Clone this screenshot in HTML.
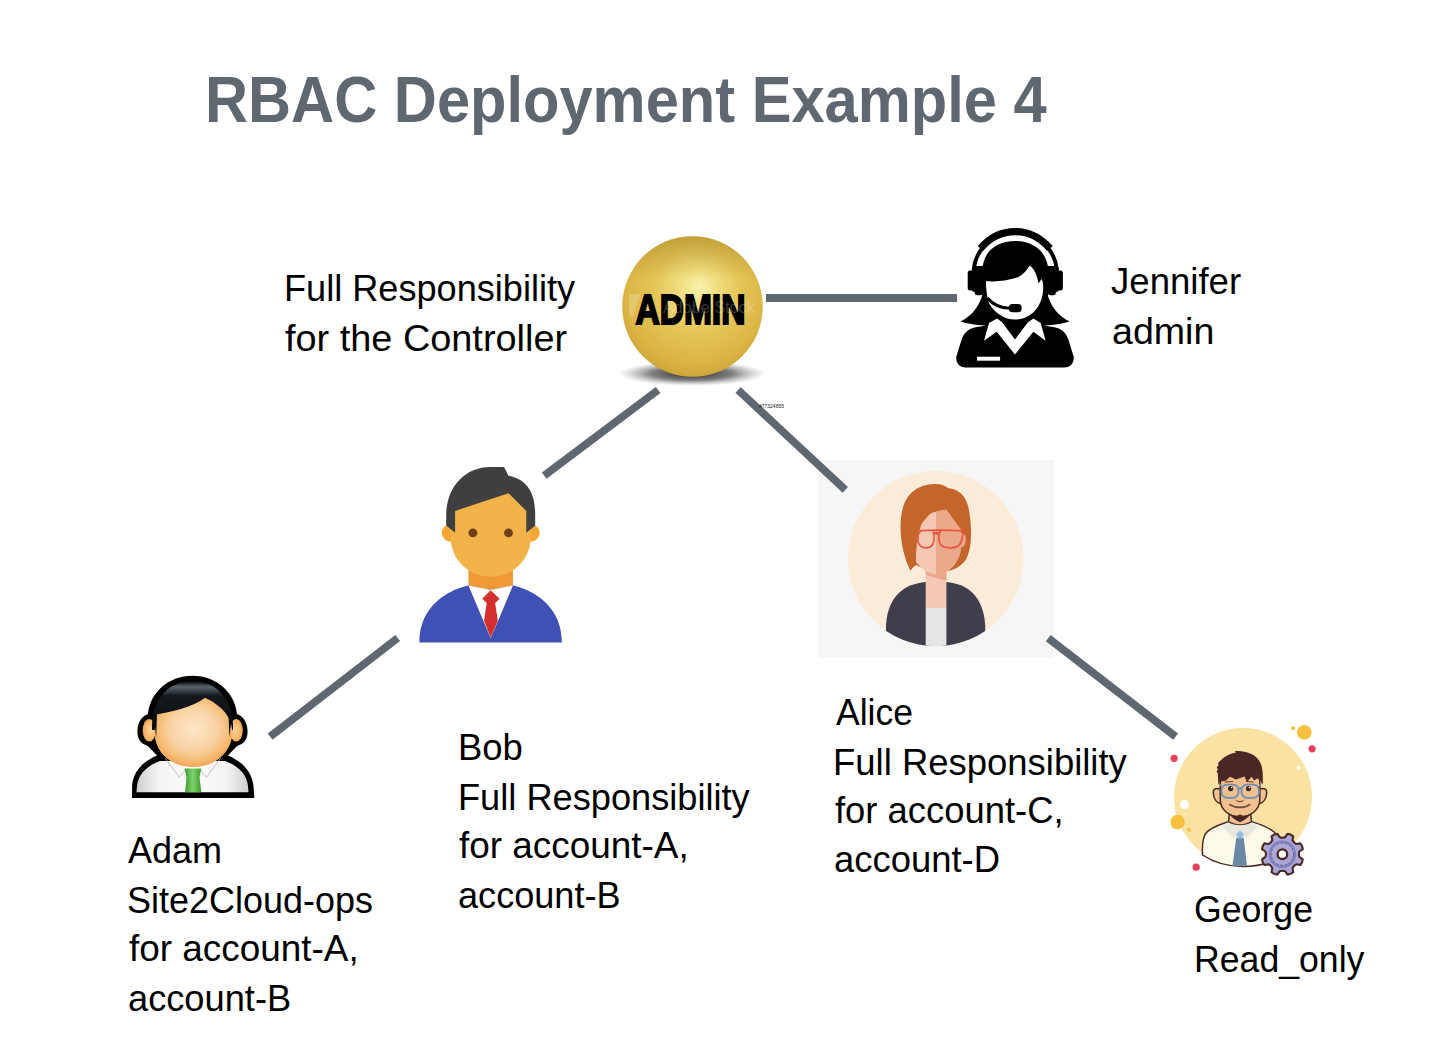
<!DOCTYPE html>
<html><head><meta charset="utf-8"><style>
html,body{margin:0;padding:0;background:#fff;}
body{width:1434px;height:1044px;position:relative;overflow:hidden;}
.t{position:absolute;font-family:"Liberation Sans",sans-serif;white-space:nowrap;line-height:1;transform-origin:0 0;}
svg{position:absolute;left:0;top:0;}
</style></head><body>
<svg width="1434" height="1044" viewBox="0 0 1434 1044">
<defs>
 <radialGradient id="gold" cx="0.52" cy="0.40" r="0.62" fx="0.55" fy="0.36">
  <stop offset="0" stop-color="#f8f2ae"/>
  <stop offset="0.22" stop-color="#f0de7e"/>
  <stop offset="0.5" stop-color="#e4c457"/>
  <stop offset="0.8" stop-color="#dcb646"/>
  <stop offset="0.93" stop-color="#d3aa3c"/>
  <stop offset="1" stop-color="#c49c32"/>
 </radialGradient>
 <radialGradient id="shad" cx="0.5" cy="0.5" r="0.5">
  <stop offset="0" stop-color="#222" stop-opacity="1"/>
  <stop offset="0.55" stop-color="#555" stop-opacity="0.75"/>
  <stop offset="1" stop-color="#999" stop-opacity="0"/>
 </radialGradient>
 <linearGradient id="goldTop" x1="0" x2="0" y1="0" y2="1">
  <stop offset="0" stop-color="#8a6a10" stop-opacity="0.35"/>
  <stop offset="0.3" stop-color="#8a6a10" stop-opacity="0"/>
  <stop offset="1" stop-color="#8a6a10" stop-opacity="0"/>
 </linearGradient>
 <clipPath id="aliceClip"><circle cx="935.7" cy="558.6" r="87.7"/></clipPath>
</defs>
<!-- Alice box -->
<rect x="818" y="460" width="236" height="198" fill="#f6f6f6"/>
<circle cx="935.7" cy="558.6" r="87.7" fill="#faecd8"/>
<g clip-path="url(#aliceClip)">
 <path fill="#403e4c" d="M886,646 L886,625 C888,595 905,584 925.7,582 L946.4,582 C967,584 983,595 985.2,625 L985.2,646 Z"/>
 <rect x="925.7" y="570" width="20.7" height="38" fill="#f5c8b3"/>
 <path fill="#eba88b" d="M925.7,569 L946.4,569 L946.4,581 L925.7,575 Z"/>
 <rect x="925.7" y="607.8" width="20.7" height="40" fill="#e5e6e7"/>
</g>
<path fill="#c4652b" d="M935,484.1 C941,484 945,486 948.3,488.2 C958,489 966,495 968.5,508 C971,520 971.5,532 970.8,540 C970,550 968,556 965.7,560 C961,566 955,570 948.3,570.7 L936,574 L916,565 C913,567 912,569 910.4,570.7 C905,560 901,545 900.6,530 C900,510 905,498 912.4,492 C918,487 927,484 935,484.1 Z"/>
<path fill="#f5c8b3" d="M916,560 C916,548 917.5,538 919.1,532.3 C921,524 923,521 925.7,519 C929,514 933,512 936,511.8 C940,510.5 944,509.8 946.2,509.8 L960.6,529.2 L960.6,549.7 C960,560 950,574.3 936,574.3 C927,574.3 920,567 916,562 Z"/>
<path fill="#eba88b" d="M936,511.8 C940,510.5 944,509.8 946.2,509.8 L960.6,529.2 L960.6,549.7 C960,560 950,574.3 936,574.3 Z"/>
<path fill="#eba88b" d="M960.4,533.5 C964,532.5 966,535 965.8,540 C965.6,545 963,548 960.4,547.5 Z"/>
<g fill="none" stroke="#e8563f" stroke-width="1.7" stroke-linecap="round">
 <path d="M920.5,530.6 C930,530 950,530 964.2,530.8"/>
 <path d="M921,530.8 C917.5,532.5 917.3,539 918.4,542.8 C919.8,546.8 922.8,547.9 926,547.9 C930,547.9 932.8,545.8 933.8,541.5 C934.4,538.5 934.2,534.5 933.4,531.8"/>
 <path d="M940.3,531.2 C938.4,534 938.4,540 939.8,543.2 C941.6,547 945.5,547.9 950.4,547.9 C955.8,547.9 959.8,546 961.4,541.4 C962.5,537.5 963,533.5 963.6,530.8"/>
 <path d="M934,533.2 L938.6,533.2" stroke-width="2.4"/>
</g>

<!-- connector lines -->
<rect x="766" y="294" width="191" height="8" fill="#5f6770"/>
<g stroke="#5f6770" stroke-width="7.8" fill="none">
 <line x1="658.1" y1="390" x2="544.2" y2="475.7"/>
 <line x1="738.1" y1="390" x2="845.3" y2="489.9"/>
 <line x1="397.7" y1="638" x2="270.1" y2="736.6"/>
 <line x1="1048.2" y1="638.2" x2="1175.6" y2="736.6"/>
</g>

<!-- ADMIN sphere -->
<ellipse cx="692" cy="373.5" rx="74" ry="12.5" fill="url(#shad)"/>
<circle cx="692.5" cy="306.5" r="70.3" fill="url(#gold)"/>
<circle cx="692.5" cy="306.5" r="70.3" fill="url(#goldTop)"/>

<!-- Bob -->
<g transform="translate(383.9,449.44) scale(4.45,4.39)">
 <path fill="#f09a36" d="M19,25 h10 v6 l-5,1 l-5,-1 z"/>
 <circle cx="15" cy="19" r="2" fill="#f5a733"/>
 <circle cx="33" cy="19" r="2" fill="#f5a733"/>
 <path fill="#f2b34b" d="M33,13c0-7.6-18-5-18,0c0,1.1,0,5.9,0,7c0,5,4,9,9,9s9-4,9-9C33,18.9,33,14.1,33,13z"/>
 <path fill="#3f3f3f" d="M24,4c-6.1,0-10,4.9-10,11c0,0.8,0,2.3,0,2.3l2,1.7v-5l12-4l4,4v5l2-1.7c0,0,0-1.5,0-2.3c0-4-1-8-6-9l-1-2H24z"/>
 <circle cx="20" cy="19" r="1" fill="#6e3f17"/>
 <circle cx="28" cy="19" r="1" fill="#6e3f17"/>
 <path fill="#3f51b5" d="M8,44 c0-11 11-13 11-13 l5,1 l5,-1 c0,0 11,2 11,13 z"/>
 <path fill="#fff" d="M19,31 l5,1 l5,-1 l-5,12 z"/>
 <path fill="#d32f2f" d="M24,32.1 l2,1.9 l-1,1 l0.6,4 l-1.6,3.9 l-1.5,-3.9 l0.6,-4 l-1,-1 z"/>
</g>

<!-- Jennifer -->
<g fill="#000">
 <path d="M966,367.5 C959,367.5 956.2,363 956.2,357 L961.8,339 C965,330 972,327 981,326.5 L1015,316 L1049,326.5 C1058,327 1065,330 1068.2,339 L1073.8,357 C1073.8,363 1071,367.5 1064,367.5 Z"/>
 <path d="M982.7,266.4 C985,250 998,241.1 1015.3,241.1 C1032,241.1 1045,250 1048,266.4 L1048,296 C1051,306 1058,316 1069.6,321.4 C1062,323.5 1056,324.5 1049,325.2 L981,325.2 C974,324.5 968,323.5 960.5,321.4 C972,316 979,306 982,296 Z"/>
</g>
<path fill="#fff" d="M985.8,280.9 C992,281.8 1005,282 1018.5,276.9 C1024,274 1027,270 1029.5,265.8 C1034,268 1037,275 1038.5,283.2 L1041.7,279 C1043,282 1043.4,285 1043.2,288.5 C1043,305 1032,319.6 1015.3,319.6 C1003,319.6 993,311 989,303 C987,297 986,288 985.8,280.9 Z"/>
<g fill="none" stroke="#000" stroke-linecap="butt">
 <path stroke-width="7.4" d="M980.5,248.5 C990,237 1002,231.6 1015.3,231.6 C1028,231.6 1040,237 1050,248.5"/>
 <path stroke-width="4" d="M982.5,248 C977.5,254 974.5,261 973.7,270"/>
 <path stroke-width="4" d="M1048,248 C1053,254 1056,261 1056.9,270"/>
 <path stroke-width="3" d="M987.5,298 C993,305 1001,308 1010,308.2"/>
</g>
<g fill="#000">
 <rect x="967.7" y="270.6" width="18.1" height="20" rx="2.5"/>
 <rect x="972" y="266" width="13.8" height="26" rx="2.5"/>
 <rect x="974.8" y="287" width="7.9" height="8.3" rx="2.5"/>
 <rect x="1044.8" y="270.6" width="18.1" height="20" rx="2.5"/>
 <rect x="1044.8" y="266" width="13.8" height="26" rx="2.5"/>
 <rect x="1047.9" y="287" width="7.9" height="8.3" rx="2.5"/>
 <rect x="1008.9" y="304.1" width="12.7" height="8.1" rx="3.5"/>
</g>
<path fill="#fff" d="M989,323.1 L997.1,318.6 L1002.1,322.2 L1015,339.4 L1028,322.2 L1033.4,318.6 L1040.7,323.1 L1045.6,340.8 L1033.4,331.7 L1015,354.4 L996.7,331.7 L984,340.8 Z"/>
<rect x="977" y="356.7" width="23.1" height="4" fill="#fff"/>


<!-- George -->
<circle cx="1243" cy="797" r="69" fill="#fae3a2"/>
<g fill="#f6c13f">
 <circle cx="1304.3" cy="732.4" r="7.3"/>
 <circle cx="1293.1" cy="728.3" r="2"/>
 <circle cx="1177.6" cy="822.1" r="7.3"/>
 <circle cx="1188.8" cy="829.8" r="2"/>
</g>
<g fill="#e8415e">
 <circle cx="1312.1" cy="748.8" r="3.6"/>
 <circle cx="1174.1" cy="758.3" r="3.6"/>
 <circle cx="1196.2" cy="867.2" r="3.6"/>
</g>
<g fill="#fff">
 <circle cx="1298.6" cy="767.8" r="2"/>
 <circle cx="1184.5" cy="804.5" r="4.5"/>
</g>
<g stroke="#4a2825" stroke-width="1.5" stroke-linejoin="round">
 <path fill="#fcfbe9" d="M1202.5,855 C1202,845 1203,837 1206,833 C1211,827 1222,824 1228.5,821.6 L1251.5,821.6 C1260,824 1268,827 1274,832 L1290,850 C1282,860 1262,866.5 1243,866.5 C1228,866.5 1213,862 1202.5,855 Z"/>
 <path fill="#f0c08e" d="M1229.5,812 L1250.5,812 L1251.5,821.6 C1246,826 1234,826 1228.5,821.6 Z"/>
 <path fill="#f0c08e" d="M1220.5,789 C1216,787.5 1213,789 1213.3,793 C1213.6,798 1216,803 1221,803.5 Z"/>
 <path fill="#f0c08e" d="M1259.5,789 C1264,787.5 1267,789 1266.7,793 C1266.4,798 1264,803 1259,803.5 Z"/>
 <path fill="#f0c08e" d="M1220.3,778 C1220.3,770 1230,765 1240,765 C1250,765 1259.8,770 1259.8,778 L1259.8,800 C1259.8,810 1250,817 1240,817 C1230,817 1220.3,810 1220.3,800 Z"/>
</g>
<path fill="#e6e6df" d="M1222,826 L1228.8,822.5 C1234,826 1246,826 1251.2,822.5 L1258,826 L1247,838 L1240,832 L1233,838 Z"/>
<path fill="#6a87a8" d="M1236.2,838 L1243.8,838 L1246.9,865.8 L1232.5,865.8 Z"/>
<path fill="#9cbde0" d="M1240,830.3 L1243.8,834 L1242.8,838.5 L1237.2,838.5 L1236.2,834 Z"/>
<path fill="#4a2825" d="M1228,812.5 C1233,816 1237,816.5 1240,814.6 C1243,816.5 1247,816 1252,812.5 C1249,817 1245,820 1240,822.2 C1235,820 1231,817 1228,812.5 Z"/>
<path fill="#4a2825" d="M1218.4,784.5 L1217.7,773 L1216.5,772 L1217.8,769.5 L1216.8,767 L1218.5,765.5 L1218,763 L1221,760 C1225,756 1230,753.5 1236,752.5 L1234.5,751.2 C1240,750.5 1246,751.5 1250,753.5 C1256,755.5 1260,760 1261.8,767 C1263,772 1263,779 1262.7,785 L1260.5,781 L1257.5,778.3 L1254.3,780.5 L1251.5,776.8 L1247,782 L1244.5,776.4 L1236,779.5 L1230,776.8 L1226,780.5 L1221,781.5 Z"/>
<g fill="none" stroke="#4a2825" stroke-width="0.9" stroke-linecap="round">
 <path d="M1225,782 L1232.5,781.5"/>
 <path d="M1246.5,781.5 L1253,782"/>
</g>
<g fill="none" stroke="#6b8fb7" stroke-width="1.8" stroke-linejoin="round">
 <path d="M1219.8,785.2 L1221.6,785"/>
 <path d="M1258.8,785 L1260.2,785.2"/>
 <rect x="1221.5" y="784.6" width="17" height="13.2" rx="5.5" ry="5.5"/>
 <rect x="1241.5" y="784.6" width="17.5" height="13.2" rx="5.5" ry="5.5"/>
 <path d="M1238.5,788 L1241.5,788"/>
</g>
<g fill="#3e2320">
 <circle cx="1230.6" cy="788.6" r="2.6"/>
 <circle cx="1248.5" cy="788.6" r="2.6"/>
</g>
<g fill="#fff">
 <circle cx="1231.6" cy="787.6" r="0.8"/>
 <circle cx="1249.5" cy="787.6" r="0.8"/>
</g>
<g fill="none" stroke="#6e4a3e" stroke-width="1.1" stroke-linecap="round">
 <path d="M1236.8,800.6 C1238.5,802 1241.5,802 1243,800.6"/>
 <path d="M1229.9,804.7 C1236,808.2 1244,808.2 1249.8,804.7" stroke-width="1.6"/>
</g>
<g transform="translate(1282.4,854.2)">
 <path fill="#aba6d6" stroke="#4a2825" stroke-width="2.1" stroke-linejoin="round" d="M16.99,2.69 L20.38,5.08 Q20.14,8.34 18.00,10.82 L13.92,10.11 Q11.31,11.31 10.11,13.92 L10.82,18.00 Q8.34,20.14 5.08,20.38 L2.69,16.99 Q0.00,16.00 -2.69,16.99 L-5.08,20.38 Q-8.34,20.14 -10.82,18.00 L-10.11,13.92 Q-11.31,11.31 -13.92,10.11 L-18.00,10.82 Q-20.14,8.34 -20.38,5.08 L-16.99,2.69 Q-16.00,0.00 -16.99,-2.69 L-20.38,-5.08 Q-20.14,-8.34 -18.00,-10.82 L-13.92,-10.11 Q-11.31,-11.31 -10.11,-13.92 L-10.82,-18.00 Q-8.34,-20.14 -5.08,-20.38 L-2.69,-16.99 Q-0.00,-16.00 2.69,-16.99 L5.08,-20.38 Q8.34,-20.14 10.82,-18.00 L10.11,-13.92 Q11.31,-11.31 13.92,-10.11 L18.00,-10.82 Q20.14,-8.34 20.38,-5.08 L16.99,-2.69 Q16.00,-0.00 16.99,2.69 Z"/>
 <circle r="12.8" fill="none" stroke="#7b7fc4" stroke-width="1.9"/>
 <circle r="11.2" fill="none" stroke="#4a3a5a" stroke-width="0.7" stroke-dasharray="3 1.2"/>
 <circle r="4.8" fill="#fff" stroke="#4a2825" stroke-width="2.3"/>
</g>
<!-- Adam -->
<defs>
 <radialGradient id="aface" cx="0.5" cy="0.45" r="0.55">
  <stop offset="0" stop-color="#fde5c9"/>
  <stop offset="0.55" stop-color="#f9d3a4"/>
  <stop offset="0.85" stop-color="#f6bb74"/>
  <stop offset="1" stop-color="#f2a653"/>
 </radialGradient>
 <linearGradient id="ashirt" x1="0" x2="1" y1="0" y2="0">
  <stop offset="0" stop-color="#cfcfcf"/>
  <stop offset="0.2" stop-color="#f4f4f4"/>
  <stop offset="0.5" stop-color="#fdfdfd"/>
  <stop offset="0.8" stop-color="#f4f4f4"/>
  <stop offset="1" stop-color="#cfcfcf"/>
 </linearGradient>
 <linearGradient id="ahair" x1="0" x2="0" y1="0" y2="1">
  <stop offset="0" stop-color="#000"/>
  <stop offset="0.12" stop-color="#5a646c"/>
  <stop offset="0.3" stop-color="#15191d"/>
  <stop offset="1" stop-color="#0a0c0e"/>
 </linearGradient>
 <radialGradient id="aear" cx="0.6" cy="0.5" r="0.6">
  <stop offset="0" stop-color="#fbd3a0"/>
  <stop offset="0.6" stop-color="#f7bb73"/>
  <stop offset="1" stop-color="#f0a04a"/>
 </radialGradient>
 <linearGradient id="atie" x1="0" x2="1" y1="0" y2="0">
  <stop offset="0" stop-color="#3a9a2c"/>
  <stop offset="0.5" stop-color="#7fd36a"/>
  <stop offset="1" stop-color="#3a9a2c"/>
 </linearGradient>
</defs>
<!-- silhouette outline -->
<path fill="#000" d="M132,798 L132.1,786 C133,772 142,762 157,755.5 C150,748 148,746 146,745 C139,743 137,736 137.5,730 C138,722 142,716 148,714 C150,693 168,675.8 192.5,675.8 C217,675.8 235,693 237,714 C243,716 247,722 247.5,730 C248,736 246,743 239,745 C237,746 235,748 228,755.5 C243,762 252,772 253.5,786 L254.3,798 Z"/>
<!-- shirt -->
<path fill="url(#ashirt)" d="M136.5,792.2 L137,786 C138,775 146,766 160,761 L225,761 C239,766 247,775 248,786 L248.5,792.2 Z"/>
<!-- ears -->
<ellipse cx="149.3" cy="730.2" rx="6.6" ry="11.3" fill="url(#aear)"/>
<ellipse cx="236.2" cy="730.2" rx="6.6" ry="11.3" fill="url(#aear)" transform="rotate(180 236.2 730.2)"/>
<!-- hair -->
<path fill="url(#ahair)" d="M152,730 C151,700 168,681 192.5,681 C217,681 234,700 233,730 Z"/>
<!-- face -->
<path fill="url(#aface)" d="M156,714.6 C170,712 192,708 205.1,697.8 C220,705 231,715 232.3,730.8 C233,752 215,767 193,767 C171,767 154,752 154.8,732 C155,726 155.3,720 156,714.6 Z"/>
<path fill="#0a0c0e" d="M153,711 L157,713 L156.2,737.5 Z M232.5,711 L228.5,713 L229.3,737.5 Z"/>
<!-- collar -->
<g fill="none" stroke="#b8b8b8" stroke-width="0.9">
 <path d="M165.1,757.9 L179.3,777.3 L185.8,769.5"/>
 <path d="M220.7,757.9 L206.5,777.3 L200,769.5"/>
</g>
<!-- tie -->
<path fill="url(#atie)" d="M184.5,768.5 L201.3,768.5 L199.5,777.3 L201.3,792.2 L185.1,792.2 L186.5,777.3 Z"/>
<!-- ADMIN text -->
<text x="0" y="0" transform="translate(635.5,323.9) scale(0.78,1)" font-family="Liberation Sans" font-weight="700" font-size="43" fill="#000" stroke="#000" stroke-width="2.2" stroke-linejoin="miter">ADMIN</text>
<g opacity="0.2" fill="#fff">
 <path d="M629,294 L640,294 L633,316 L629,316 Z"/>
 <text x="0" y="0" transform="translate(663,313) scale(0.95,1)" font-family="Liberation Sans" font-size="17">Adobe Stock</text>
</g>
<text x="784" y="407.5" font-family="Liberation Sans" font-size="5" fill="#222" text-anchor="end">#77324855</text>
</svg>

<div class="t" style="left:204.7px;top:68.0px;font-size:64px;font-weight:700;color:#5f6771;transform:scaleX(0.9317)">RBAC Deployment Example 4</div>
<div class="t" style="left:284.1px;top:270.0px;font-size:37px;font-weight:400;color:#000;transform:scaleX(0.9763)">Full Responsibility</div>
<div class="t" style="left:284.6px;top:319.8px;font-size:37px;font-weight:400;color:#000;transform:scaleX(1.0236)">for the Controller</div>
<div class="t" style="left:1110.7px;top:263.2px;font-size:37px;font-weight:400;color:#000;transform:scaleX(0.9885)">Jennifer</div>
<div class="t" style="left:1111.6px;top:313.1px;font-size:37px;font-weight:400;color:#000;transform:scaleX(1.0155)">admin</div>
<div class="t" style="left:128.4px;top:832.2px;font-size:37px;font-weight:400;color:#000;transform:scaleX(0.9734)">Adam</div>
<div class="t" style="left:127.0px;top:881.9px;font-size:37px;font-weight:400;color:#000;transform:scaleX(0.9720)">Site2Cloud-ops</div>
<div class="t" style="left:128.6px;top:930.2px;font-size:37px;font-weight:400;color:#000;transform:scaleX(0.9974)">for account-A,</div>
<div class="t" style="left:127.6px;top:979.5px;font-size:37px;font-weight:400;color:#000;transform:scaleX(0.9791)">account-B</div>
<div class="t" style="left:457.5px;top:729.1px;font-size:37px;font-weight:400;color:#000;transform:scaleX(0.9852)">Bob</div>
<div class="t" style="left:457.6px;top:778.9px;font-size:37px;font-weight:400;color:#000;transform:scaleX(0.9783)">Full Responsibility</div>
<div class="t" style="left:458.6px;top:826.6px;font-size:37px;font-weight:400;color:#000;transform:scaleX(0.9974)">for account-A,</div>
<div class="t" style="left:457.6px;top:876.5px;font-size:37px;font-weight:400;color:#000;transform:scaleX(0.9761)">account-B</div>
<div class="t" style="left:835.5px;top:694.1px;font-size:37px;font-weight:400;color:#000;transform:scaleX(0.9595)">Alice</div>
<div class="t" style="left:832.5px;top:743.9px;font-size:37px;font-weight:400;color:#000;transform:scaleX(0.9854)">Full Responsibility</div>
<div class="t" style="left:835.2px;top:791.5px;font-size:37px;font-weight:400;color:#000;transform:scaleX(0.9838)">for account-C,</div>
<div class="t" style="left:834.0px;top:841.1px;font-size:37px;font-weight:400;color:#000;transform:scaleX(0.9848)">account-D</div>
<div class="t" style="left:1193.6px;top:890.6px;font-size:37px;font-weight:400;color:#000;transform:scaleX(0.9642)">George</div>
<div class="t" style="left:1194.4px;top:941.0px;font-size:37px;font-weight:400;color:#000;transform:scaleX(0.9632)">Read_only</div>
</body></html>
